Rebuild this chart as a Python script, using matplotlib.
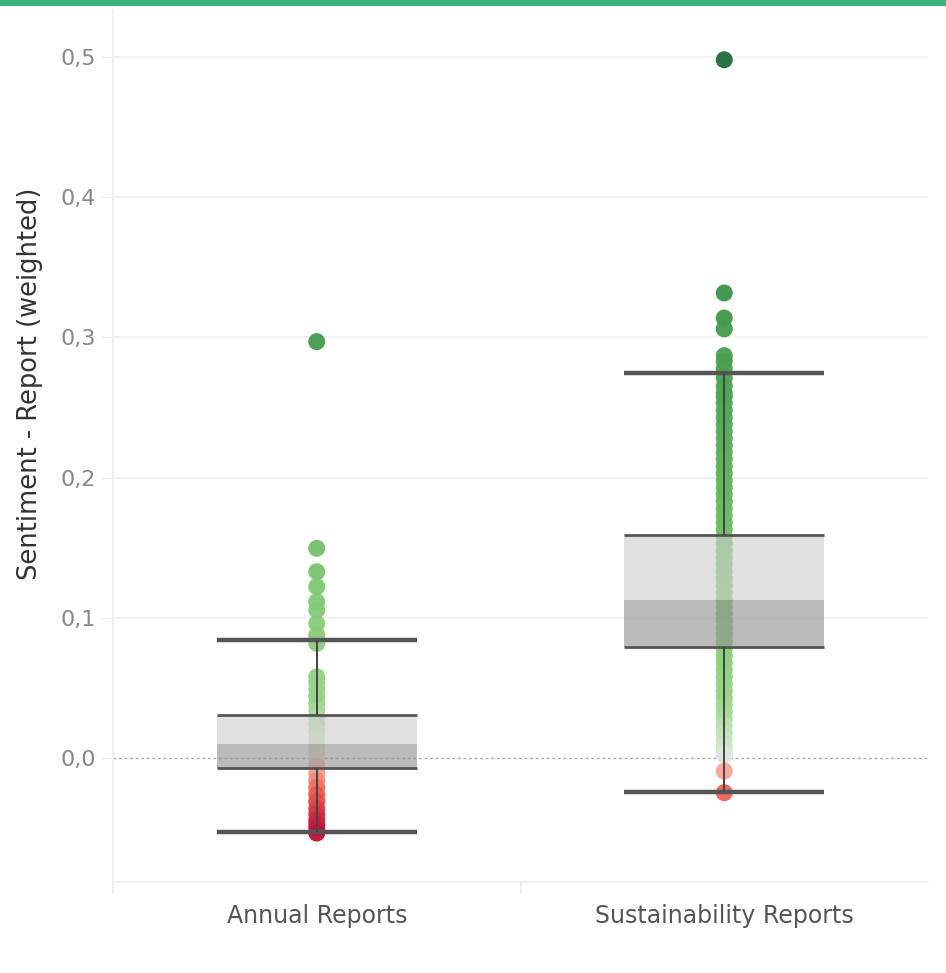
import matplotlib
matplotlib.use('Agg')
import matplotlib.pyplot as plt
import numpy as np
from matplotlib.colors import LinearSegmentedColormap, TwoSlopeNorm
from matplotlib.patches import Rectangle

# categories and box statistics
categories = ['Annual Reports', 'Sustainability Reports']
whisker_low = [-0.0528, -0.0243]
q1 = [-0.0071, 0.0792]
median = [0.0100, 0.1127]
q3 = [0.0307, 0.1590]
whisker_high = [0.0842, 0.2746]

# individual report values
annual_values = [0.297, 0.1496, 0.1329, 0.1222, 0.1115, 0.1056, 0.0960, 0.0877, 0.0818,
                 0.058, 0.054, 0.049, 0.044, 0.039, 0.034, 0.029, 0.024, 0.019, 0.014,
                 0.009, 0.004, -0.001, -0.006, -0.011, -0.016, -0.021, -0.026, -0.031,
                 -0.036, -0.040, -0.044, -0.047, -0.050, -0.0535]
sust_values = [0.498, 0.3317, 0.3138, 0.3061, 0.2870, 0.2832, 0.2780, 0.2710, 0.2653, 0.2603,
               0.2576, 0.253, 0.248, 0.243, 0.238, 0.233, 0.228, 0.223, 0.218, 0.213,
               0.208, 0.203, 0.198, 0.193, 0.188, 0.183, 0.178, 0.173, 0.168, 0.163,
               0.158, 0.153, 0.148, 0.143, 0.138, 0.133, 0.128, 0.123, 0.118, 0.113,
               0.108, 0.103, 0.098, 0.093, 0.088, 0.083, 0.078, 0.073, 0.068, 0.063,
               0.058, 0.053, 0.048, 0.043, 0.038, 0.033, 0.028, 0.023, 0.018, 0.013,
               0.008, 0.004, 0.002, -0.0093, -0.0247]

yticks = [0.0, 0.1, 0.2, 0.3, 0.4, 0.5]
ytick_labels = ['0,0', '0,1', '0,2', '0,3', '0,4', '0,5']

# red-green diverging palette, tableau-ish
cmap = LinearSegmentedColormap.from_list('rdgn', [
    (0.00, '#c0103a'), (0.25, '#ec5a4c'), (0.42, '#fba898'), (0.50, '#e4e4e4'),
    (0.515, '#c4e4bc'), (0.54, '#98d488'), (0.62, '#80c873'), (0.70, '#62b35e'),
    (0.82, '#3d9849'), (1.00, '#1d6b3b')])
all_vals = annual_values + sust_values
norm = TwoSlopeNorm(vcenter=0.0, vmin=min(all_vals), vmax=max(all_vals))

fig = plt.figure(figsize=(9.46, 9.73), dpi=100)
ax = fig.add_axes([113 / 946, 1 - 882 / 973, 815 / 946, 872 / 973])

# top green band
fig.patches.append(Rectangle((0, 1 - 6 / 973), 1, 6 / 973, transform=fig.transFigure,
                             facecolor='#3db27a', edgecolor='none'))

box_w = 0.49
for i, vals in enumerate([annual_values, sust_values]):
    ax.scatter([i] * len(vals), vals, c=vals, cmap=cmap, norm=norm, s=150,
               linewidths=0, alpha=0.95, zorder=2)

    # box (two shades)
    ax.bar(i, q3[i] - median[i], bottom=median[i], width=box_w, color='#cdcdcd',
           alpha=0.62, zorder=3)
    ax.bar(i, median[i] - q1[i], bottom=q1[i], width=box_w, color='#919191',
           alpha=0.62, zorder=3)
    ax.hlines([q1[i], q3[i]], i - box_w / 2, i + box_w / 2, color='#555555', lw=2, zorder=4)
    ax.hlines([whisker_low[i], whisker_high[i]], i - box_w / 2, i + box_w / 2,
              color='#555555', lw=3.2, zorder=4)
    ax.vlines(i, q3[i], whisker_high[i], color='#444444', lw=1.4, zorder=4)
    ax.vlines(i, whisker_low[i], q1[i], color='#444444', lw=1.4, zorder=4)

ax.set_xlim(-0.5, 1.5)
ax.set_ylim(-0.0884, 0.5335)

for y in yticks[1:]:
    ax.axhline(y, color='#f0f0f0', lw=1.2, zorder=0)
ax.axhline(0, color='#aaaaaa', lw=1, ls=(0, (2, 2)), zorder=1)

ax.set_yticks(yticks)
ax.set_yticklabels(ytick_labels, fontsize=16, color='#888888')
ax.tick_params(axis='y', length=9, width=1, color='#f0f0f0', pad=3)
ax.set_xticks([0, 1])
ax.set_xticklabels(categories, fontsize=17, color='#555555')
ax.tick_params(axis='x', length=0, pad=16)
ax.set_ylabel('Sentiment - Report (weighted)', fontsize=18.5, color='#333333')
ax.yaxis.set_label_coords(-0.086, 0.571)

for s in ['top', 'right']:
    ax.spines[s].set_visible(False)
for s in ['left', 'bottom']:
    ax.spines[s].set_color('#eeeeee')
    ax.spines[s].set_linewidth(1.2)

# category divider ticks below the axis
for xb in [-0.5, 0.5]:
    ax.plot([xb, xb], [-0.0884, -0.0964], color='#eeeeee', lw=1.2, clip_on=False)

fig.savefig('out.png', dpi=100, facecolor='white')
